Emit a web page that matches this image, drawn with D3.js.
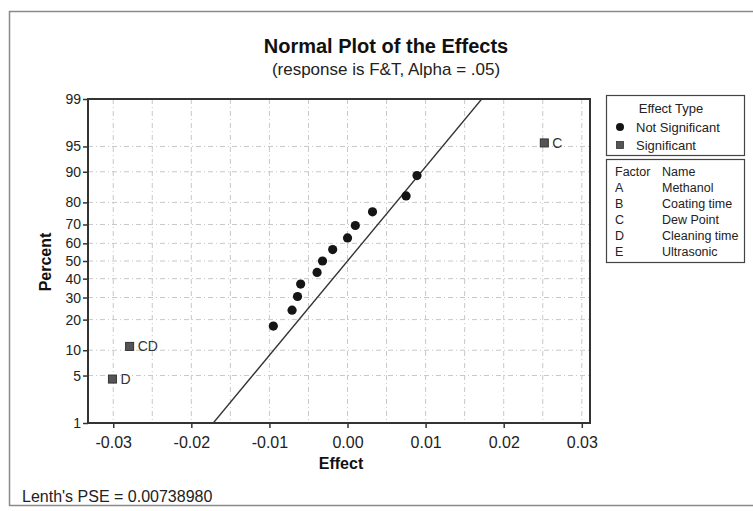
<!DOCTYPE html>
<html>
<head>
<meta charset="utf-8">
<script src="https://cdn.jsdelivr.net/npm/d3@7"></script>
<style>
  html, body { margin: 0; padding: 0; background: #fff; }
  svg { display: block; font-family: "Liberation Sans", Arial, sans-serif; }
</style>
</head>
<body>
<svg id="chart" width="753" height="511"></svg>
<script>
// Effects and their normal-probability plotting positions (percent)
const significantLabels   = ["D", "CD", "C"];
const significantEffects  = [-0.0301, -0.0279, 0.0252];
const significantPercents = [4.5, 11.0, 95.5];

const otherEffects  = [-0.0095, -0.0071, -0.0064, -0.0060, -0.0039, -0.0032,
                       -0.0019, 0.0000, 0.0010, 0.0032, 0.0075, 0.0089];
const otherPercents = [17.5, 24.0, 30.5, 37.0, 43.5, 50.0,
                       56.5, 63.0, 69.5, 76.0, 82.5, 89.0];

const percentTicks = [1, 5, 10, 20, 30, 40, 50, 60, 70, 80, 90, 95, 99];
const effectTicks  = [-0.03, -0.02, -0.01, 0.00, 0.01, 0.02, 0.03];
const effectGrid   = [-0.03, -0.025, -0.02, -0.015, -0.01, -0.005, 0, 0.005, 0.01, 0.015, 0.02, 0.025, 0.03];

const factorCodes = ["A", "B", "C", "D", "E"];
const factorNames = ["Methanol", "Coating time", "Dew Point", "Cleaning time", "Ultrasonic"];

const lenthPSE = 0.0073898;

// Inverse standard normal CDF (Acklam's rational approximation)
function probit(p) {
  const a = [-3.969683028665376e+01, 2.209460984245205e+02, -2.759285104469687e+02,
             1.383577518672690e+02, -3.066479806614716e+01, 2.506628277459239e+00];
  const b = [-5.447609879822406e+01, 1.615858368580409e+02, -1.556989798598866e+02,
             6.680131188771972e+01, -1.328068155288572e+01];
  const c = [-7.784894002430293e-03, -3.223964580411365e-01, -2.400758277161838e+00,
             -2.549671010422780e+00, 4.374664141464968e+00, 2.938163982698783e+00];
  const d = [7.784695709041462e-03, 3.224671290700398e-01, 2.445134137142996e+00,
             3.754408661907416e+00];
  const pl = 0.02425;
  let q, r;
  if (p < pl) {
    q = Math.sqrt(-2 * Math.log(p));
    return (((((c[0]*q+c[1])*q+c[2])*q+c[3])*q+c[4])*q+c[5]) / ((((d[0]*q+d[1])*q+d[2])*q+d[3])*q+1);
  } else if (p <= 1 - pl) {
    q = p - 0.5; r = q * q;
    return (((((a[0]*r+a[1])*r+a[2])*r+a[3])*r+a[4])*r+a[5])*q / (((((b[0]*r+b[1])*r+b[2])*r+b[3])*r+b[4])*r+1);
  } else {
    q = Math.sqrt(-2 * Math.log(1 - p));
    return -(((((c[0]*q+c[1])*q+c[2])*q+c[3])*q+c[4])*q+c[5]) / ((((d[0]*q+d[1])*q+d[2])*q+d[3])*q+1);
  }
}

const svg = d3.select("#chart");
const plot = { left: 88, right: 590, top: 99, bottom: 423 };

const x = d3.scaleLinear().domain([-0.03323, 0.03105]).range([plot.left, plot.right]);
const zScale = d3.scaleLinear().domain([probit(0.01), probit(0.99)]).range([plot.bottom, plot.top]);
const y = pct => zScale(probit(pct / 100));

// outer frame
svg.append("rect")
  .attr("x", 9.5).attr("y", 11.5).attr("width", 760).attr("height", 494)
  .attr("fill", "#fff").attr("stroke", "#8a8a8a").attr("stroke-width", 1.5);

// title
svg.append("text").attr("x", 386).attr("y", 53).attr("text-anchor", "middle")
  .attr("font-size", 20).attr("font-weight", "bold").attr("fill", "#111")
  .text("Normal Plot of the Effects");
svg.append("text").attr("x", 386).attr("y", 75).attr("text-anchor", "middle")
  .attr("font-size", 17).attr("fill", "#222")
  .text("(response is F&T, Alpha = .05)");

// gridlines
const grid = svg.append("g").attr("stroke", "#c8c8c8").attr("stroke-width", 1)
  .attr("stroke-dasharray", "5,3,1,3");
grid.selectAll("line.v").data(effectGrid).join("line")
  .attr("x1", d => x(d)).attr("x2", d => x(d))
  .attr("y1", plot.top).attr("y2", plot.bottom);
grid.selectAll("line.h").data(percentTicks.slice(1, -1)).join("line")
  .attr("x1", plot.left).attr("x2", plot.right)
  .attr("y1", d => y(d)).attr("y2", d => y(d));

// axes
const xAxis = d3.axisBottom(x).tickValues(effectTicks).tickSize(5).tickSizeOuter(0)
  .tickFormat(d3.format(".2f"));
const gx = svg.append("g").attr("transform", `translate(0,${plot.bottom})`).call(xAxis);
gx.select(".domain").remove();
gx.selectAll(".tick line").attr("stroke", "#333").attr("stroke-width", 1.5);
gx.selectAll(".tick text").attr("font-size", 16).attr("fill", "#222").attr("dy", "1.05em")
  .attr("font-family", "Liberation Sans, Arial, sans-serif")
  .text(d => d3.format(".2f")(d).replace("−", "-"));

const yAxis = d3.axisLeft(zScale).tickValues(percentTicks.map(p => probit(p / 100)))
  .tickSize(5).tickSizeOuter(0)
  .tickFormat((d, i) => percentTicks[i]);
const gy = svg.append("g").attr("transform", `translate(${plot.left},0)`).call(yAxis);
gy.select(".domain").remove();
gy.selectAll(".tick line").attr("stroke", "#333").attr("stroke-width", 1.5);
gy.selectAll(".tick text").attr("font-size", 14).attr("fill", "#222")
  .attr("font-family", "Liberation Sans, Arial, sans-serif").attr("x", -7);

// axis titles
svg.append("text").attr("x", 341).attr("y", 469).attr("text-anchor", "middle")
  .attr("font-size", 16).attr("font-weight", "bold").attr("fill", "#111").text("Effect");
svg.append("text").attr("transform", "translate(51,262) rotate(-90)").attr("text-anchor", "middle")
  .attr("font-size", 16).attr("font-weight", "bold").attr("fill", "#111").text("Percent");

// reference line: effects ~ N(0, PSE)
svg.append("clipPath").attr("id", "plotClip").append("rect")
  .attr("x", plot.left).attr("y", plot.top)
  .attr("width", plot.right - plot.left).attr("height", plot.bottom - plot.top);
const zEnds = [probit(0.005), probit(0.995)];
svg.append("line").attr("clip-path", "url(#plotClip)")
  .attr("x1", x(zEnds[0] * lenthPSE)).attr("y1", zScale(zEnds[0]))
  .attr("x2", x(zEnds[1] * lenthPSE)).attr("y2", zScale(zEnds[1]))
  .attr("stroke", "#333").attr("stroke-width", 1.4);

// plot border
svg.append("rect").attr("x", plot.left).attr("y", plot.top)
  .attr("width", plot.right - plot.left).attr("height", plot.bottom - plot.top)
  .attr("fill", "none").attr("stroke", "#333").attr("stroke-width", 2);

// not significant effects
svg.append("g").selectAll("circle").data(otherEffects).join("circle")
  .attr("cx", d => x(d)).attr("cy", (d, i) => y(otherPercents[i]))
  .attr("r", 4.6).attr("fill", "#151515");

// significant effects
const sig = svg.append("g").selectAll("g").data(significantEffects).join("g")
  .attr("transform", (d, i) => `translate(${x(d)},${y(significantPercents[i])})`);
sig.append("rect").attr("x", -4).attr("y", -4).attr("width", 8).attr("height", 8)
  .attr("fill", "#555").attr("stroke", "#333").attr("stroke-width", 1);
sig.append("text").attr("x", 8).attr("y", 5).attr("font-size", 14).attr("fill", "#333")
  .text((d, i) => significantLabels[i]);

// legend: effect type
const lg = svg.append("g");
lg.append("rect").attr("x", 606.5).attr("y", 95.5).attr("width", 138).attr("height", 60)
  .attr("fill", "#fff").attr("stroke", "#444").attr("stroke-width", 1.2);
lg.append("text").attr("x", 671).attr("y", 113).attr("text-anchor", "middle")
  .attr("font-size", 13).attr("fill", "#222").text("Effect Type");
lg.append("circle").attr("cx", 620).attr("cy", 127).attr("r", 4).attr("fill", "#151515");
lg.append("text").attr("x", 636).attr("y", 131.5).attr("font-size", 13).attr("fill", "#222")
  .text("Not Significant");
lg.append("rect").attr("x", 616.5).attr("y", 141.5).attr("width", 7).attr("height", 7)
  .attr("fill", "#555").attr("stroke", "#333").attr("stroke-width", 0.8);
lg.append("text").attr("x", 636).attr("y", 149.5).attr("font-size", 13).attr("fill", "#222")
  .text("Significant");

// legend: factor names
const fg = svg.append("g");
fg.append("rect").attr("x", 606.5).attr("y", 159.5).attr("width", 138).attr("height", 103)
  .attr("fill", "#fff").attr("stroke", "#444").attr("stroke-width", 1.2);
fg.append("text").attr("x", 615).attr("y", 176).attr("font-size", 12.5).attr("fill", "#222").text("Factor");
fg.append("text").attr("x", 662).attr("y", 176).attr("font-size", 12.5).attr("fill", "#222").text("Name");
fg.selectAll("text.code").data(factorCodes).join("text").attr("class", "code")
  .attr("x", 615).attr("y", (d, i) => 192 + i * 16)
  .attr("font-size", 12.5).attr("fill", "#222").text(d => d);
fg.selectAll("text.name").data(factorNames).join("text").attr("class", "name")
  .attr("x", 662).attr("y", (d, i) => 192 + i * 16)
  .attr("font-size", 12.5).attr("fill", "#222").text(d => d);

// footnote
svg.append("text").attr("x", 22).attr("y", 502).attr("font-size", 16).attr("fill", "#222")
  .text("Lenth's PSE = " + lenthPSE.toFixed(8));
</script>
</body>
</html>
